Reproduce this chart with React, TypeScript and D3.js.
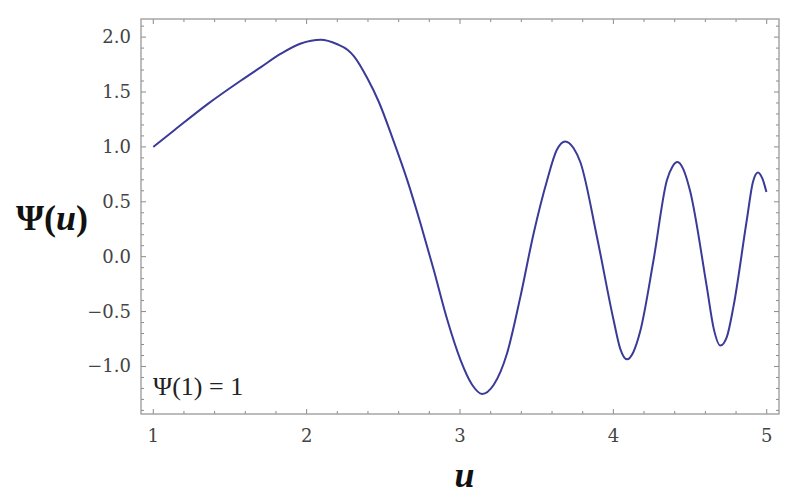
import React, {useRef, useEffect} from 'react';
import * as d3 from 'd3';

// points (u, psi)
const uValues = [
    1.0, 1.137, 1.354, 1.572, 1.702, 1.832, 1.962, 2.092, 2.2, 2.266, 2.309, 2.396, 2.471,
    2.56, 2.656, 2.743, 2.829, 2.917, 3.003, 3.079, 3.144, 3.22, 3.307, 3.394, 3.48,
    3.568, 3.63, 3.687, 3.74, 3.785, 3.893, 4.001, 4.045, 4.089, 4.13, 4.175, 4.262,
    4.349, 4.385, 4.418, 4.455, 4.5, 4.609, 4.655, 4.698, 4.74, 4.783, 4.87, 4.91,
    4.943, 4.972, 4.998
];
const psiValues = [
    1.0, 1.152, 1.39, 1.605, 1.727, 1.849, 1.942, 1.976, 1.935, 1.885, 1.825, 1.625, 1.409,
    1.08, 0.697, 0.30, -0.121, -0.575, -0.939, -1.166, -1.25, -1.166, -0.879, -0.364, 0.212,
    0.697, 0.97, 1.05, 0.99, 0.86, 0.18, -0.575, -0.84, -0.935, -0.87, -0.68, -0.03,
    0.697, 0.82, 0.862, 0.80, 0.60, -0.273, -0.66, -0.81, -0.73, -0.455, 0.334, 0.68,
    0.767, 0.71, 0.59
];

const xTicks = [1, 2, 3, 4, 5];
const yTicks = [-1.0, -0.5, 0.0, 0.5, 1.0, 1.5, 2.0];

const Chart = ({width, height}) => {
    const svgRef = useRef(null);

    useEffect(() => {
        const svg = d3.select(svgRef.current);
        svg.selectAll('*').remove();

        const left = 141, right = 779, top = 19, bottom = 414;

        const xScale = d3.scaleLinear().domain([0.92, 5.08]).range([left, right]);
        const yScale = d3.scaleLinear().domain([-1.433, 2.165]).range([bottom, top]);

        const grey = '#999';
        const tickCol = '#8a8a8a';
        const majorLen = 5, minorLen = 3;

        // minor / major ticks, mirrored on all four sides
        const xMinor = d3.range(1, 5.001, 0.2).map(v => +v.toFixed(2));
        const yMinor = d3.range(-1.4, 2.15, 0.1).map(v => +v.toFixed(2));
        const isMajorX = v => Math.abs(v - Math.round(v)) < 1e-6;
        const isMajorY = v => Math.abs(v * 2 - Math.round(v * 2)) < 1e-6;

        const ticks = svg.append('g').attr('stroke', tickCol).attr('stroke-width', 1);
        xMinor.forEach(v => {
            const len = isMajorX(v) ? majorLen : minorLen;
            const x = xScale(v);
            ticks.append('line').attr('x1', x).attr('x2', x).attr('y1', bottom).attr('y2', bottom - len);
            ticks.append('line').attr('x1', x).attr('x2', x).attr('y1', top).attr('y2', top + len);
        });
        yMinor.forEach(v => {
            const len = isMajorY(v) ? majorLen : minorLen;
            const y = yScale(v);
            ticks.append('line').attr('x1', left).attr('x2', left + len).attr('y1', y).attr('y2', y);
            ticks.append('line').attr('x1', right).attr('x2', right - len).attr('y1', y).attr('y2', y);
        });

        // frame
        svg.append('rect')
            .attr('x', left).attr('y', top)
            .attr('width', right - left).attr('height', bottom - top)
            .attr('fill', 'none')
            .attr('stroke', grey)
            .attr('stroke-width', 1.3);

        // tick labels
        const labelFont = '"DejaVu Serif", serif';
        svg.append('g').selectAll('text')
            .data(xTicks)
            .join('text')
            .attr('x', d => xScale(d))
            .attr('y', bottom + 28)
            .attr('text-anchor', 'middle')
            .attr('font-family', labelFont)
            .attr('font-size', 18)
            .attr('fill', '#444')
            .text(d => d3.format('d')(d));

        svg.append('g').selectAll('text')
            .data(yTicks)
            .join('text')
            .attr('x', left - 10)
            .attr('y', d => yScale(d) + 6)
            .attr('text-anchor', 'end')
            .attr('font-family', labelFont)
            .attr('font-size', 18)
            .attr('fill', '#444')
            .text(d => d3.format('.1f')(d).replace('-', '\u2212'));

        // curve through the read points
        const line = d3.line()
            .x((d, i) => xScale(uValues[i]))
            .y(d => yScale(d))
            .curve(d3.curveMonotoneX);

        svg.append('path')
            .datum(psiValues)
            .attr('fill', 'none')
            .attr('stroke', '#3a3a98')
            .attr('stroke-width', 2)
            .attr('d', line);

        // axis labels
        const yLab = svg.append('text')
            .attr('x', 16)
            .attr('y', 230)
            .attr('font-family', '"Liberation Serif", serif')
            .attr('font-size', 36)
            .attr('font-weight', 'bold')
            .attr('fill', '#111');
        yLab.append('tspan').text('\u03A8(');
        yLab.append('tspan').attr('font-style', 'italic').text('u');
        yLab.append('tspan').text(')');

        svg.append('text')
            .attr('x', xScale(3.03))
            .attr('y', 487)
            .attr('text-anchor', 'middle')
            .attr('font-family', '"Liberation Serif", serif')
            .attr('font-size', 36)
            .attr('font-weight', 'bold')
            .attr('font-style', 'italic')
            .attr('fill', '#111')
            .text('u');

        svg.append('text')
            .attr('x', 153)
            .attr('y', 395)
            .attr('font-family', '"Liberation Serif", serif')
            .attr('font-size', 26)
            .attr('fill', '#222')
            .text('\u03A8(1) = 1');
    }, [width, height]);

    return <svg ref={svgRef} width={width} height={height} style={{display: 'block'}}/>;
};

export default function App() {
    return (
        <div style={{position: 'absolute', left: 0, top: 0}}>
            <Chart width={799} height={500}/>
        </div>
    );
}
